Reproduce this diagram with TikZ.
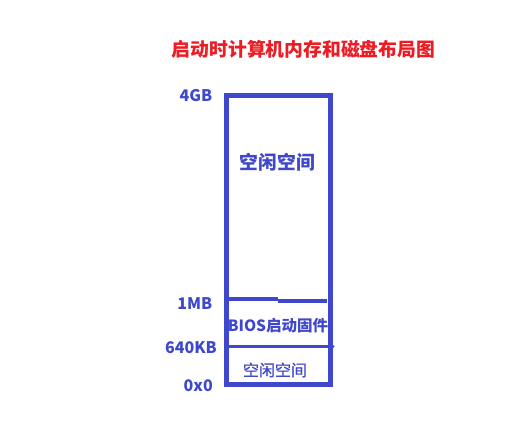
\documentclass[tikz,border=0pt]{standalone}
\usepackage{fontspec}
\setmainfont{Noto Sans CJK SC}
\newfontfamily\cjk{Noto Sans CJK SC}
\newfontfamily\cjksemi{Noto Sans CJK SC}[FakeBold=0.8]
\definecolor{indigo}{HTML}{3F48CC}
\definecolor{titlered}{HTML}{ED1C24}
\tikzset{
  memline/.style={draw=indigo, line width=5pt},
  divline/.style={draw=indigo, line width=3.5pt, line cap=round},
  addr/.style={text=indigo, font=\cjk\bfseries\fontsize{16}{18}\selectfont, anchor=east, inner sep=0pt},
  region/.style={text=indigo, inner sep=0pt},
}
\begin{document}
\begin{tikzpicture}[x=1pt,y=-1pt]
\useasboundingbox (0,0) rectangle (514,438);
\fill[white] (0,0) rectangle (514,438);
\node[text=titlered, font=\cjk\bfseries\fontsize{18.8}{20}\selectfont, inner sep=0pt] (title) at (303.5,49) {启动时计算机内存和磁盘布局图};
\coordinate (tl) at (226.5,96);
\coordinate (br) at (330,384);
\draw[memline] (tl) rectangle (br);
\coordinate (m1a) at (229,299);
\coordinate (m1b) at (278,299);
\coordinate (m1c) at (278,301);
\coordinate (m1d) at (327,301);
\draw[divline, line cap=butt] (m1a) -- (m1b);
\draw[divline, line cap=butt] (m1c) -- (m1d);
\coordinate (k1a) at (226,346.5);
\coordinate (k1b) at (333,346.5);
\draw[divline] (k1a) -- (k1b);
\node[addr] (l4gb) at (212.5,96) {4GB};
\node[addr] (l1mb) at (212.5,303.5) {1MB};
\node[addr] (l640) at (217,348) {640KB};
\node[addr] (l0) at (213,386) {0x0};
\node[region, font=\cjk\bfseries\fontsize{18.8}{20}\selectfont] (free1) at (277.5,162) {空闲空间};
\node[region, font=\cjk\bfseries\fontsize{15.5}{17}\selectfont] (bios) at (278,326) {BIOS启动固件};
\node[region, font=\cjksemi\fontsize{16}{18}\selectfont] (free2) at (275,370) {空闲空间};
\end{tikzpicture}
\end{document}
